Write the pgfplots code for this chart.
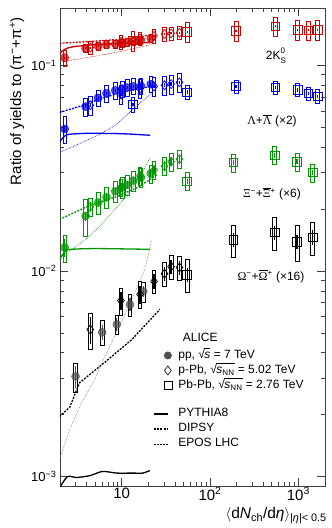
\documentclass[border=0pt]{standalone}
\usepackage{amsmath}
\usepackage{fontspec}
\setmainfont{Liberation Sans}
\newfontfamily\grk{Liberation Serif}
\usepackage{pgfplots}
\usepackage{pgfplotstable}
\pgfplotsset{compat=1.18}

\definecolor{cK}{RGB}{205,0,0}
\definecolor{cL}{RGB}{0,0,230}
\definecolor{cX}{RGB}{0,150,0}
\definecolor{cO}{RGB}{0,0,0}
\definecolor{cOpp}{RGB}{80,80,80}

\newcommand\rootbar[1]{√\kern-0.04em\rlap{\rule[0.83em]{#1}{0.055em}}}

\pgfmathsetmacro\decpt{478/log10(0.19/0.0009)}
\pgfdeclareplotmark{nothing}{}

\pgfplotsset{
 sysbox/.style={forget plot, only marks, mark=nothing,
   visualization depends on={\decpt*log10(1+\thisrow{sys}) \as \dhi},
   visualization depends on={-\decpt*log10(1-\thisrow{sys}) \as \dlo},
   scatter,
   scatter/@pre marker code/.code={%
     \pgfscope\pgfsetlinewidth{0.7pt}\pgfsetstrokecolor{#1}%
     \pgfpathrectangle{\pgfpoint{-1.8pt}{-\dlo pt}}{\pgfpoint{3.6pt}{\dlo pt+\dhi pt}}%
     \pgfusepath{stroke}\endpgfscope},
   scatter/@post marker code/.code={}},
 ppst/.style={forget plot, only marks, color=#1, mark=*, mark size=4pt,
   mark options={draw=none, fill=#1, fill opacity=0.7},
   error bars/.cd, y dir=both, y explicit relative, error mark=none,
   error bar style={#1, line width=1.2pt}},
 ppbst/.style={forget plot, only marks, color=#1, mark=diamond, mark size=4.5pt,
   mark options={line width=0.7pt},
   error bars/.cd, y dir=both, y explicit relative, error mark=none,
   error bar style={#1, line width=1.2pt}},
 pbst/.style={forget plot, only marks, color=#1, mark=square, mark size=4.3pt,
   mark options={line width=0.7pt},
   error bars/.cd, y dir=both, y explicit relative, error mark=none,
   error bar style={#1, line width=1.2pt}},
 pyst/.style={forget plot, no marks, color=#1, line width=1.3pt, smooth, tension=0.4},
 dist/.style={forget plot, no marks, color=#1, line width=1.3pt, dash pattern=on 2pt off 1.3pt},
 epst/.style={forget plot, no marks, color=#1, line width=0.6pt, dash pattern=on 0.6pt off 0.9pt},
}

% ---------- data: x y stat(rel) sys(rel)
\pgfplotstableread{
x y stat sys
2.26 0.109 0.01 0.09
3.90 0.121 0.01 0.045
5.40 0.124 0.01 0.045
6.72 0.126 0.01 0.045
8.45 0.127 0.01 0.045
10.1 0.128 0.01 0.045
11.5 0.129 0.01 0.045
13.5 0.131 0.01 0.045
16.5 0.133 0.01 0.045
21.3 0.135 0.01 0.045
}\Kpp
\pgfplotstableread{
x y stat sys
4.4 0.122 0.01 0.075
9.8 0.130 0.01 0.075
16.1 0.135 0.01 0.075
23.2 0.139 0.01 0.075
30.5 0.142 0.01 0.075
36.2 0.143 0.01 0.075
45.0 0.144 0.01 0.075
}\KpPb
\pgfplotstableread{
x y stat sys
13.4 0.132 0.01 0.11
55 0.145 0.01 0.11
197 0.147 0.01 0.11
550 0.155 0.01 0.11
980 0.149 0.01 0.11
1300 0.148 0.01 0.11
1650 0.149 0.01 0.11
}\KPbPb
\pgfplotstableread{
x y stat sys
2.26 0.049 0.03 0.15
3.90 0.063 0.02 0.10
5.40 0.0695 0.02 0.09
6.72 0.073 0.02 0.09
8.45 0.0755 0.02 0.09
10.1 0.077 0.02 0.09
11.5 0.078 0.02 0.09
13.5 0.079 0.02 0.09
16.5 0.0795 0.02 0.09
21.3 0.081 0.02 0.09
}\Lpp
\pgfplotstableread{
x y stat sys
4.4 0.064 0.02 0.105
9.8 0.072 0.02 0.105
16.1 0.077 0.02 0.105
23.2 0.079 0.02 0.105
30.5 0.080 0.02 0.105
36.2 0.081 0.02 0.105
45.0 0.0826 0.02 0.105
}\LpPb
\pgfplotstableread{
x y stat sys
13.4 0.0646 0.02 0.085
55 0.074 0.02 0.08
197 0.079 0.02 0.07
550 0.078 0.02 0.075
980 0.076 0.02 0.075
1300 0.073 0.02 0.075
1650 0.0707 0.02 0.075
}\LPbPb
\pgfplotstableread{
x y stat sys
2.26 0.0130 0.10 0.15
3.90 0.0185 0.05 0.20
5.40 0.0215 0.04 0.12
6.72 0.0228 0.04 0.12
8.45 0.0244 0.04 0.12
10.1 0.0255 0.04 0.12
11.5 0.0262 0.04 0.11
13.5 0.0275 0.04 0.11
16.5 0.0285 0.04 0.11
21.3 0.0298 0.04 0.10
}\Xpp
\pgfplotstableread{
x y stat sys
4.4 0.0205 0.04 0.10
9.8 0.0255 0.04 0.10
16.1 0.029 0.04 0.10
23.2 0.031 0.04 0.10
30.5 0.0323 0.04 0.10
36.2 0.034 0.04 0.10
45.0 0.035 0.04 0.10
}\XpPb
\pgfplotstableread{
x y stat sys
55 0.0273 0.03 0.10
184 0.0337 0.03 0.10
537 0.0365 0.03 0.10
966 0.034 0.03 0.10
1448 0.0301 0.03 0.10
}\XPbPb
\pgfplotstableread{
x y stat sys
3.0 0.00307 0.12 0.16
6.0 0.00503 0.08 0.14
8.8 0.0055 0.07 0.11
12.4 0.00687 0.07 0.12
17.5 0.00795 0.06 0.11
}\Opp
\pgfplotstableread{
x y stat sys
4.4 0.00519 0.15 0.20
9.8 0.00718 0.10 0.15
16.1 0.0077 0.10 0.15
23.2 0.0089 0.08 0.13
30.5 0.0097 0.08 0.13
36.2 0.0105 0.08 0.13
45.0 0.0104 0.08 0.13
}\OpPb
\pgfplotstableread{
x y stat sys
55 0.0096 0.08 0.18
184 0.0142 0.08 0.18
537 0.0154 0.08 0.18
966 0.0139 0.08 0.20
1448 0.0146 0.08 0.18
}\OPbPb

\begin{document}
\begin{tikzpicture}
\begin{axis}[name=ax, scale only axis, width=265pt, height=478pt,
  xmode=log, ymode=log, xmin=2, xmax=2000, ymin=0.0009, ymax=0.19,
  clip mode=individual,
  xtick={10,100,1000}, xticklabels={10,10\textsuperscript{2},10\textsuperscript{3}},
  minor xtick={3,4,5,6,7,8,9,20,30,40,50,60,70,80,90,200,300,400,500,600,700,800,900},
  ytick={0.001,0.01,0.1}, yticklabels={10\textsuperscript{−3},10\textsuperscript{−2},10\textsuperscript{−1}},
  minor ytick={0.002,0.003,0.004,0.005,0.006,0.007,0.008,0.009,0.02,0.03,0.04,0.05,0.06,0.07,0.08,0.09},
  tick align=inside, major tick length=8pt, minor tick length=4pt,
  axis line style={line width=0.8pt, black!75}, every tick/.style={black!75, line width=0.7pt},
  xticklabel style={font=\fontsize{15}{15}\selectfont, yshift=2pt},
  yticklabel style={font=\fontsize{13}{13}\selectfont},
  xlabel={$\langle$d\textit{N}\textsubscript{ch}/d\textit{η}$\rangle$\textsubscript{|\textit{η}|< 0.5}},
  every axis x label/.style={at={(axis description cs:1.02,-0.062)}, anchor=east, font=\fontsize{15.5}{15.5}\selectfont},
  ylabel={Ratio of yields to (π\textsuperscript{−}+π\textsuperscript{+})},
  every axis y label/.style={at={(axis description cs:-0.162,0.805)}, rotate=90, anchor=center, font=\fontsize{15}{15}\selectfont},
  legend style={at={(axis description cs:0.351,0.32)}, anchor=north west, draw=none, fill=none,
    inner sep=0pt, font=\fontsize{12}{12}\selectfont,
    nodes={inner sep=0pt, text height=8pt, text depth=2.5pt}, row sep=4.5pt, column sep=6pt},
  legend cell align=left,
]
% ---- models
\addplot[pyst=cK] coordinates {(1.95,0.112) (2.1,0.117) (2.4,0.121) (3.0,0.1235) (5.6,0.1265) (10,0.128) (21,0.129)};
\addplot[dist=cK] coordinates {(1.97,0.128) (5,0.131) (10,0.134) (24,0.1415)};
\addplot[epst=cK] coordinates {(1.97,0.1034) (2.25,0.1046) (4.9,0.1106) (10,0.117) (21.9,0.1265)};
\addplot[pyst=cL] coordinates {(1.97,0.0425) (2.2,0.0448) (2.45,0.0461) (4.1,0.0467) (10,0.0465) (21,0.0457)};
\addplot[dist=cL] coordinates {(1.97,0.059) (3.3,0.063) (5.6,0.0684) (10,0.074) (21,0.079) (25,0.080)};
\addplot[epst=cL] coordinates {(1.97,0.0377) (3.6,0.0422) (5.6,0.0461) (8.8,0.0516) (13.3,0.0611) (22.5,0.0739)};
\addplot[pyst=cX] coordinates {(1.97,0.0113) (2.2,0.0122) (2.45,0.0127) (5,0.01285) (21,0.01274)};
\addplot[dist=cX] coordinates {(1.97,0.0178) (4.1,0.0206) (8.3,0.0228) (15.2,0.0255) (25.6,0.0295)};
\addplot[epst=cX] coordinates {(2.0,0.0118) (2.8,0.0128) (4.1,0.0145) (6.2,0.0172) (9.8,0.0215) (15.2,0.0273) (21,0.0357)};
\addplot[pyst=black] coordinates {(1.97,0.00088) (2.43,0.001) (3.08,0.00099) (4.33,0.00101) (6.08,0.00106) (8.78,0.00104) (13.3,0.00104) (17.3,0.00104) (20.8,0.00107)};
\addplot[dist=black] coordinates {(1.97,0.00196) (2.57,0.00217) (3.33,0.00286) (6.4,0.00359) (13,0.00464) (27,0.0065)};
\addplot[epst=gray] coordinates {(1.97,0.00121) (2.57,0.00169) (3.51,0.00229) (4.94,0.00296) (5.93,0.00355) (9.0,0.00519) (13,0.00726) (18.2,0.01016) (21.9,0.0142)};
% ---- systematic boxes
\addplot[sysbox=cK] table[x=x,y=y]{\Kpp};
\addplot[sysbox=cK] table[x=x,y=y]{\KpPb};
\addplot[sysbox=cK] table[x=x,y=y]{\KPbPb};
\addplot[sysbox=cL] table[x=x,y=y]{\Lpp};
\addplot[sysbox=cL] table[x=x,y=y]{\LpPb};
\addplot[sysbox=cL] table[x=x,y=y]{\LPbPb};
\addplot[sysbox=cX] table[x=x,y=y]{\Xpp};
\addplot[sysbox=cX] table[x=x,y=y]{\XpPb};
\addplot[sysbox=cX] table[x=x,y=y]{\XPbPb};
\addplot[sysbox=black] table[x=x,y=y]{\Opp};
\addplot[sysbox=black] table[x=x,y=y]{\OpPb};
\addplot[sysbox=black] table[x=x,y=y]{\OPbPb};
% ---- points with statistical errors
\addplot[ppst=cK] table[x=x,y=y,y error=stat]{\Kpp};
\addplot[ppbst=cK] table[x=x,y=y,y error=stat]{\KpPb};
\addplot[pbst=cK] table[x=x,y=y,y error=stat]{\KPbPb};
\addplot[ppst=cL] table[x=x,y=y,y error=stat]{\Lpp};
\addplot[ppbst=cL] table[x=x,y=y,y error=stat]{\LpPb};
\addplot[pbst=cL] table[x=x,y=y,y error=stat]{\LPbPb};
\addplot[ppst=cX] table[x=x,y=y,y error=stat]{\Xpp};
\addplot[ppbst=cX] table[x=x,y=y,y error=stat]{\XpPb};
\addplot[pbst=cX] table[x=x,y=y,y error=stat]{\XPbPb};
\addplot[ppst=cOpp] table[x=x,y=y,y error=stat]{\Opp};
\addplot[ppbst=black] table[x=x,y=y,y error=stat]{\OpPb};
\addplot[pbst=black] table[x=x,y=y,y error=stat]{\OPbPb};
% ---- labels
\node[font=\fontsize{12}{12}\selectfont] at (axis description cs:0.815,0.900) {2K\rlap{\raisebox{6pt}{\fontsize{8}{8}\selectfont 0}}\raisebox{-3.5pt}{\fontsize{8}{8}\selectfont S}};
\node[font=\fontsize{12}{12}\selectfont] at (axis description cs:0.800,0.764) {{\grk Λ}+{\grk\ensuremath{\overline{\mbox{Λ}}}} (×2)};
\node[font=\fontsize{12}{12}\selectfont] at (axis description cs:0.800,0.611) {{\grk Ξ}\textsuperscript{−}+{\grk\ensuremath{\overline{\mbox{Ξ}}}}\textsuperscript{+} (×6)};
\node[font=\fontsize{12}{12}\selectfont] at (axis description cs:0.796,0.439) {{\grk Ω}\textsuperscript{−}+{\grk\ensuremath{\overline{\mbox{Ω}}}}\textsuperscript{+} (×16)};
% ---- legend
\addlegendimage{legend image code/.code={\path[draw=none,fill=none] (0pt,-4.5pt) rectangle (18.5pt,4.5pt);}}
\addlegendentry[text depth=4.5pt]{\hspace{4.5pt}ALICE}
\addlegendimage{legend image code/.code={\path[draw=none,fill=none] (0pt,-4.5pt) rectangle (18.5pt,4.5pt); \fill[cOpp, draw=none] (14pt,0pt) circle (4pt);}}
\addlegendentry{pp, \rootbar{0.5em}\textit{s} = 7 TeV}
\addlegendimage{legend image code/.code={\path[draw=none,fill=none] (0pt,-4.5pt) rectangle (18.5pt,4.5pt); \draw[black, fill=none, line width=0.6pt] (14pt,4.5pt) -- (17.4pt,0pt) -- (14pt,-4.5pt) -- (10.6pt,0pt) -- cycle;}}
\addlegendentry{p-Pb, \rootbar{1.55em}\textit{s}\textsubscript{NN} = 5.02 TeV}
\addlegendimage{legend image code/.code={\path[draw=none,fill=none] (0pt,-4.5pt) rectangle (18.5pt,4.5pt); \draw[black, fill=none, line width=0.6pt] (10pt,-4pt) rectangle (18pt,4pt);}}
\addlegendentry{Pb-Pb, \rootbar{1.55em}\textit{s}\textsubscript{NN} = 2.76 TeV}
\addlegendimage{legend image code/.code={\path[draw=none,fill=none] (0pt,-4.5pt) rectangle (18.5pt,4.5pt);}}
\addlegendentry[text height=7pt, text depth=0pt]{}
\addlegendimage{legend image code/.code={\path[draw=none,fill=none] (0pt,-4.5pt) rectangle (18.5pt,4.5pt); \draw[black, line width=1.3pt] (0pt,0pt) -- (14pt,0pt);}}
\addlegendentry{PYTHIA8}
\addlegendimage{legend image code/.code={\path[draw=none,fill=none] (0pt,-4.5pt) rectangle (18.5pt,4.5pt); \draw[black, line width=1.3pt, dash pattern=on 2pt off 1.3pt] (0pt,0pt) -- (14pt,0pt);}}
\addlegendentry{DIPSY}
\addlegendimage{legend image code/.code={\path[draw=none,fill=none] (0pt,-4.5pt) rectangle (18.5pt,4.5pt); \draw[black, line width=0.6pt, dash pattern=on 0.6pt off 0.9pt] (0pt,0pt) -- (14pt,0pt);}}
\addlegendentry{EPOS LHC}
\end{axis}
\pgfresetboundingbox
\path ([xshift=-60pt,yshift=-42pt]ax.south west) rectangle ([xshift=7pt,yshift=8pt]ax.north east);
\end{tikzpicture}
\end{document}
